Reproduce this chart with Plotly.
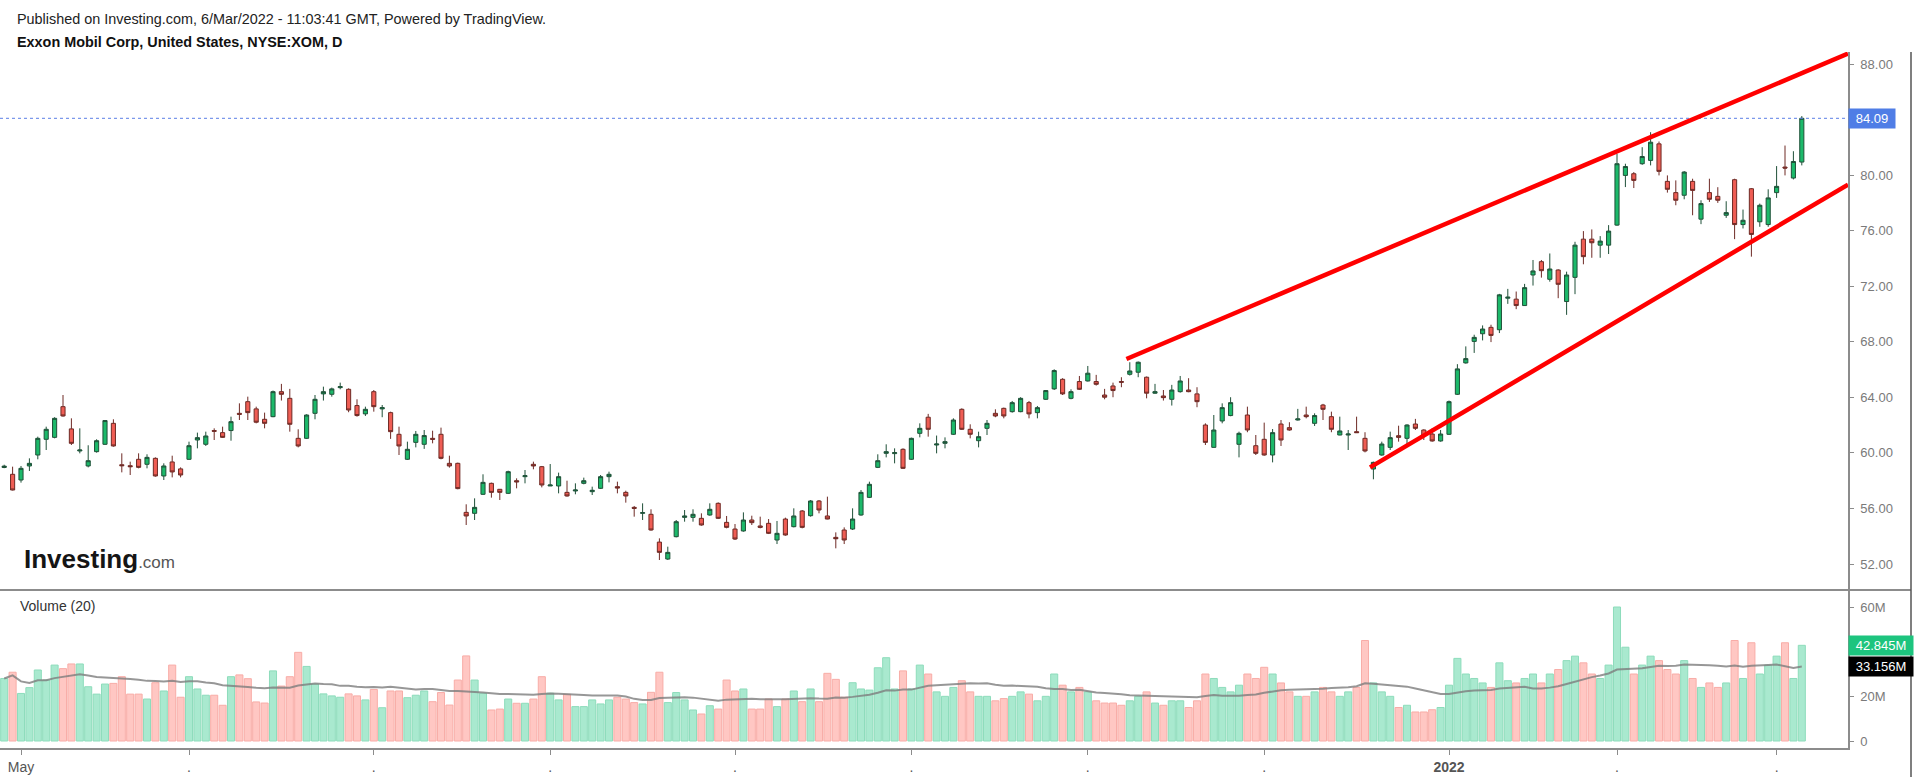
import plotly.graph_objects as go
import pandas as pd

# ---------------- data (daily candles, Apr 29 2021 .. Mar 4 2022) ----------------
opens = [
    58.95, 58.46, 58.05, 59.06, 59.85, 60.98, 61.12, 63.33, 61.73, 60.14,
    59.06, 60.09, 60.62, 62.13, 59.15, 59.08, 59.54, 59.18, 59.61, 58.34,
    59.35, 58.85, 59.54, 60.93, 60.62, 61.61, 61.46, 61.61, 62.85, 63.69,
    63.17, 62.42, 62.61, 64.41, 63.93, 61.05, 61.05, 62.85, 64.25, 64.22,
    64.70, 64.58, 63.41, 62.81, 64.41, 63.17, 62.90, 61.34, 59.54, 60.76,
    60.62, 61.05, 61.34, 59.25, 59.25, 55.72, 55.65, 57.02, 57.81, 57.38,
    57.09, 58.00, 58.29, 59.18, 59.01, 57.62, 57.62, 57.16, 57.26, 57.81,
    57.21, 57.45, 58.29, 57.57, 57.16, 56.08, 55.65, 55.58, 53.58, 52.36,
    53.97, 55.36, 55.36, 55.29, 55.53, 56.37, 55.00, 54.52, 54.38, 55.17,
    54.74, 54.93, 53.73, 55.24, 54.69, 55.82, 55.48, 56.54, 55.46, 53.92,
    54.45, 54.52, 55.53, 56.80, 58.96, 59.97, 59.95, 60.26, 59.54, 61.41,
    62.57, 60.57, 60.69, 61.34, 63.14, 61.70, 60.88, 61.77, 62.85, 63.21,
    62.97, 62.97, 63.62, 62.90, 63.86, 64.61, 65.30, 63.93, 65.14, 65.18,
    65.14, 64.17, 64.82, 65.14, 65.66, 65.81, 65.45, 64.30, 64.10, 63.86,
    64.41, 64.53, 64.25, 62.01, 60.40, 62.30, 62.69, 60.62, 62.73, 60.52,
    60.98, 59.85, 62.08, 61.82, 62.37, 62.73, 62.13, 63.45, 62.61, 61.29,
    61.29, 61.53, 61.05, 58.84, 59.85, 60.40, 61.24, 61.05, 62.08, 61.65,
    61.36, 60.86, 61.34, 64.22, 66.48, 68.03, 68.58, 69.04, 68.87, 71.14,
    71.07, 70.61, 72.81, 73.77, 72.50, 73.17, 70.90, 72.64, 75.39, 75.39,
    74.96, 74.96, 76.40, 79.98, 80.10, 80.82, 81.06, 82.25, 79.55, 78.74,
    78.55, 79.55, 76.83, 78.74, 78.47, 77.11, 79.67, 76.44, 79.02, 76.64,
    76.44, 78.74, 80.58, 79.79, 80.94,
]
highs = [
    59.15, 59.01, 59.06, 59.61, 61.17, 61.89, 62.57, 64.17, 62.49, 61.77,
    60.55, 60.98, 62.37, 62.42, 59.97, 59.37, 59.97, 59.90, 59.68, 59.25,
    59.80, 58.96, 60.81, 61.46, 61.53, 61.77, 61.89, 62.61, 63.57, 64.05,
    63.33, 62.90, 64.49, 64.97, 64.61, 61.70, 62.78, 64.17, 64.77, 64.70,
    65.06, 64.65, 63.86, 63.33, 64.53, 63.45, 62.97, 61.89, 60.81, 61.58,
    61.65, 61.60, 61.82, 59.80, 59.30, 56.30, 56.73, 58.46, 57.86, 57.40,
    58.72, 58.17, 58.77, 59.37, 59.06, 59.20, 58.58, 58.00, 57.81, 58.22,
    57.57, 58.41, 58.65, 57.93, 57.28, 56.18, 56.37, 55.94, 53.85, 53.25,
    55.17, 55.89, 55.94, 55.65, 56.37, 56.44, 55.46, 54.88, 55.72, 55.48,
    55.41, 55.24, 55.10, 55.34, 56.01, 55.89, 56.61, 56.61, 56.85, 54.28,
    54.64, 56.01, 57.33, 57.93, 59.90, 60.62, 60.33, 60.33, 61.10, 62.13,
    62.81, 61.25, 61.12, 62.49, 63.21, 62.06, 61.53, 62.37, 63.14, 63.26,
    63.74, 64.01, 63.74, 63.38, 64.53, 66.02, 65.38, 64.58, 65.54, 66.26,
    65.62, 64.61, 65.06, 65.45, 66.53, 66.58, 65.50, 64.97, 64.53, 64.90,
    65.54, 65.38, 64.73, 62.13, 62.73, 63.57, 64.01, 61.53, 63.33, 61.29,
    62.18, 61.72, 62.37, 62.21, 63.17, 63.33, 62.85, 63.53, 62.97, 62.61,
    61.65, 62.61, 61.49, 59.37, 60.81, 61.53, 61.96, 62.06, 62.45, 61.70,
    61.77, 61.65, 63.77, 66.39, 67.67, 68.51, 69.18, 69.23, 71.45, 71.81,
    71.62, 72.17, 73.89, 73.89, 74.36, 73.22, 73.05, 75.20, 75.97, 76.09,
    75.61, 76.40, 81.53, 80.82, 80.22, 82.01, 83.09, 82.42, 79.98, 79.62,
    80.29, 79.74, 78.19, 79.74, 79.13, 78.12, 79.74, 77.52, 79.07, 77.95,
    78.98, 80.65, 82.13, 81.72, 84.25,
]
lows = [
    58.90, 57.30, 57.86, 58.70, 59.54, 60.21, 61.05, 62.61, 60.57, 59.97,
    58.96, 60.02, 60.57, 60.45, 58.60, 58.41, 58.89, 58.89, 58.29, 58.05,
    58.24, 58.24, 59.49, 60.33, 60.50, 60.93, 61.08, 60.88, 62.37, 62.37,
    62.13, 61.77, 62.57, 63.77, 61.53, 60.40, 61.00, 62.42, 63.77, 64.05,
    64.58, 62.93, 62.61, 62.66, 62.97, 62.57, 61.01, 59.85, 59.49, 60.40,
    60.29, 60.69, 59.54, 58.94, 57.38, 54.81, 55.17, 56.97, 56.78, 56.61,
    57.04, 57.45, 57.81, 58.82, 57.52, 57.62, 57.09, 56.85, 57.02, 57.74,
    56.97, 57.40, 57.88, 57.09, 56.42, 55.41, 55.17, 54.40, 52.29, 52.29,
    53.92, 55.05, 55.05, 54.76, 55.48, 55.24, 54.57, 53.73, 54.33, 54.81,
    54.57, 54.16, 53.44, 54.04, 54.64, 54.57, 55.41, 55.65, 55.22, 53.13,
    53.44, 54.45, 55.48, 56.75, 58.91, 59.68, 59.25, 58.84, 59.49, 61.12,
    61.17, 59.97, 60.33, 61.29, 61.65, 61.05, 60.40, 61.29, 62.57, 62.49,
    62.90, 62.93, 62.49, 62.49, 63.81, 64.53, 64.17, 63.86, 64.53, 65.14,
    64.85, 63.86, 64.01, 64.73, 65.57, 65.45, 63.93, 64.25, 63.77, 63.41,
    64.34, 64.37, 63.29, 60.57, 60.38, 62.13, 62.64, 59.68, 61.49, 59.85,
    59.80, 59.32, 60.50, 61.60, 62.33, 62.49, 61.94, 62.37, 61.49, 61.27,
    60.21, 61.46, 60.04, 58.10, 59.80, 60.21, 60.81, 60.57, 61.65, 60.93,
    60.81, 60.81, 61.29, 64.17, 66.43, 67.20, 68.10, 67.98, 68.63, 70.73,
    70.35, 70.59, 72.05, 72.62, 72.33, 71.14, 69.94, 71.43, 73.58, 74.05,
    74.05, 74.32, 76.35, 79.14, 79.07, 80.74, 80.70, 79.98, 78.74, 77.83,
    78.26, 77.11, 76.47, 78.07, 78.00, 76.92, 75.39, 76.16, 74.13, 76.28,
    76.28, 78.36, 79.98, 79.69, 80.70,
]
closes = [
    59.05, 57.33, 58.89, 59.25, 61.05, 61.70, 62.49, 62.66, 60.69, 60.21,
    59.44, 60.88, 62.33, 60.50, 59.08, 59.01, 58.96, 59.68, 58.34, 59.06,
    58.63, 58.41, 60.52, 61.10, 61.22, 61.56, 61.12, 62.25, 62.78, 62.90,
    62.21, 62.13, 64.41, 64.22, 62.06, 60.50, 62.73, 63.86, 64.41, 64.61,
    64.77, 63.09, 62.69, 63.14, 63.33, 63.26, 61.53, 60.50, 60.26, 61.34,
    61.25, 60.98, 59.61, 59.06, 57.43, 55.46, 56.08, 57.88, 57.16, 57.16,
    58.65, 57.91, 58.36, 59.06, 57.69, 57.69, 58.29, 56.90, 57.33, 58.00,
    57.31, 58.29, 58.46, 57.47, 56.90, 56.01, 55.70, 54.45, 52.84, 52.84,
    55.05, 55.46, 55.58, 54.81, 55.94, 55.29, 54.64, 53.80, 55.17, 54.98,
    54.64, 54.21, 54.21, 54.09, 55.46, 54.64, 56.54, 55.89, 55.24, 53.82,
    53.73, 55.24, 57.16, 57.74, 59.44, 60.09, 60.02, 58.89, 61.05, 61.77,
    61.70, 60.64, 60.81, 62.37, 61.70, 61.34, 61.17, 62.13, 62.66, 62.66,
    63.62, 63.93, 62.81, 63.26, 64.49, 65.93, 64.25, 64.41, 64.58, 65.74,
    64.94, 64.01, 64.49, 65.09, 65.90, 66.53, 64.30, 64.41, 63.98, 64.53,
    65.18, 64.41, 63.69, 60.76, 61.65, 63.26, 63.62, 61.41, 61.65, 59.97,
    59.85, 61.46, 60.93, 61.65, 62.45, 62.61, 62.69, 63.14, 61.70, 61.58,
    61.36, 61.46, 60.14, 59.32, 60.64, 61.10, 61.12, 62.01, 61.77, 61.24,
    60.86, 61.36, 63.69, 66.05, 66.79, 68.32, 68.92, 68.46, 71.38, 71.21,
    70.61, 71.90, 73.10, 73.12, 73.24, 72.14, 72.81, 74.96, 74.13, 75.13,
    75.25, 75.97, 80.82, 80.62, 79.62, 81.34, 82.37, 80.27, 78.98, 78.19,
    80.22, 78.90, 77.95, 78.26, 78.19, 77.30, 76.44, 76.75, 75.73, 77.83,
    78.36, 79.19, 80.51, 80.98, 84.09,
]
volumes_m = [
    28.0, 30.8, 21.3, 23.9, 31.8, 27.3, 34.0, 32.4, 34.5, 34.5,
    24.3, 21.0, 25.5, 25.8, 28.8, 21.0, 21.0, 18.8, 26.1, 22.4,
    34.0, 19.6, 28.8, 23.3, 20.5, 20.5, 16.0, 28.8, 29.6, 27.9,
    17.5, 17.0, 31.4, 24.6, 28.8, 39.7, 33.4, 25.5, 21.1, 20.2,
    19.6, 21.1, 20.2, 18.4, 23.1, 14.9, 22.4, 22.4, 19.4, 20.5,
    22.4, 17.6, 21.7, 16.1, 27.3, 38.1, 27.3, 21.4, 13.9, 14.3,
    18.8, 16.9, 16.9, 18.8, 28.8, 21.4, 18.4, 20.9, 15.4, 15.4,
    18.4, 16.6, 18.4, 19.6, 18.8, 17.2, 16.6, 21.8, 30.8, 17.2,
    21.7, 18.4, 13.9, 12.1, 15.8, 14.3, 27.3, 22.4, 23.3, 14.3,
    14.3, 18.8, 15.4, 18.8, 22.4, 17.6, 23.3, 17.6, 30.3, 27.6,
    19.6, 26.1, 23.3, 22.8, 32.8, 37.3, 23.3, 31.4, 23.3, 34.0,
    30.0, 22.0, 20.0, 24.0, 27.0, 22.0, 20.0, 20.0, 18.0, 19.0,
    20.0, 22.0, 21.0, 18.0, 20.0, 30.0, 25.0, 22.0, 24.0, 22.0,
    18.0, 17.0, 17.0, 16.0, 18.0, 20.0, 22.0, 17.0, 16.0, 18.0,
    18.0, 15.0, 18.0, 30.0, 28.0, 24.0, 22.0, 25.0, 30.0, 28.0,
    33.0, 30.0, 26.0, 22.0, 20.0, 20.0, 22.0, 24.0, 22.0, 20.0,
    22.0, 24.0, 45.0, 26.0, 22.0, 20.0, 15.0, 16.0, 13.0, 13.0,
    14.0, 15.0, 25.0, 37.0, 30.0, 28.0, 26.0, 24.0, 35.0, 27.0,
    26.0, 28.0, 30.0, 26.0, 30.0, 32.0, 36.0, 38.0, 35.0, 30.0,
    28.0, 34.0, 60.0, 42.0, 30.0, 34.0, 38.0, 36.0, 32.0, 30.0,
    36.0, 28.0, 24.0, 26.0, 24.0, 26.0, 45.0, 28.0, 44.0, 30.0,
    34.0, 38.0, 44.0, 28.0, 42.845,
]
month_tick_idx = [2, 22, 44, 65, 87, 108, 129, 150, 172, 192, 211]
month_tick_text = ["May", ".", ".", ".", ".", ".", ".", ".", "<b>2022</b>", ".", "."]
# 84.00 and 40M sit under the last-value badges in the reference, so they are not drawn
price_ticks = [52, 56, 60, 64, 68, 72, 76, 80, 88]
volume_ticks = [0, 20, 60]
volume_tick_text = ["0", "20M", "60M"]
last_price = 84.09
last_volume_label = "42.845M"
volume_ma_label_value = 33.156
ma_period = 20

# trendline drawings (day index, price)
upper_line_x = [133.6, 219.5]
upper_line_y = [66.76, 88.75]
lower_line_x = [162.6, 219.5]
lower_line_y = [58.96, 79.32]

title_1 = "Published on Investing.com, 6/Mar/2022 - 11:03:41 GMT, Powered by TradingView."
title_2 = "Exxon Mobil Corp, United States, NYSE:XOM, D"

# ---------------- figure ----------------
W, H = 1917, 777
PL, PR, PT, PB = 0, 1848, 52, 748  # plot area in pixels
PW, PH = PR - PL, PB - PT


def px(x):
    return (x - PL) / PW


def py(y):
    return (PB - y) / PH


x_idx = list(range(len(opens)))
up = [c >= o for o, c in zip(opens, closes)]
vol_colors = ["#a9e9cf" if u else "#ffc7c3" for u in up]
vol_lines = ["#8ddcbb" if u else "#f8aca7" for u in up]
vol_ma = pd.Series(volumes_m).rolling(ma_period, min_periods=1).mean().tolist()

FONT = "Liberation Sans, Arial, sans-serif"

fig = go.Figure()
fig.add_trace(go.Candlestick(
    x=x_idx, open=opens, high=highs, low=lows, close=closes,
    xaxis="x", yaxis="y",
    increasing=dict(fillcolor="#1cb96a", line=dict(color="#1f5038", width=1)),
    decreasing=dict(fillcolor="#ef5d54", line=dict(color="#6e2a25", width=1)),
    whiskerwidth=0, hoverinfo="skip",
))
fig.add_trace(go.Bar(
    x=x_idx, y=volumes_m, xaxis="x", yaxis="y2",
    marker=dict(color=vol_colors, line=dict(color=vol_lines, width=1)),
    hoverinfo="skip",
))
fig.add_trace(go.Scatter(
    x=x_idx, y=vol_ma, xaxis="x", yaxis="y2", mode="lines",
    line=dict(color="rgba(125,125,125,0.8)", width=2), hoverinfo="skip",
))

price_dom_lo = py(589)
vol_dom_hi = py(591)

fig.update_layout(
    width=W, height=H,
    margin=dict(l=PL, r=W - PR, t=PT, b=H - PB, pad=0),
    paper_bgcolor="white", plot_bgcolor="white",
    showlegend=False, bargap=0.16, boxgap=0.3,
    font=dict(family=FONT, size=13, color="#555"),
    xaxis=dict(
        anchor="y2", range=[-0.5, 219.5], showgrid=False, zeroline=False,
        tickmode="array", tickvals=month_tick_idx, ticktext=month_tick_text,
        ticks="outside", ticklen=5, tickcolor="#8c8c8c", tickwidth=1,
        showline=True, linecolor="#8c8c8c", linewidth=2,
        tickfont=dict(family=FONT, size=14, color="#555"),
        rangeslider=dict(visible=False), fixedrange=True,
    ),
    yaxis=dict(
        domain=[price_dom_lo, 1], range=[50.203, 88.864], side="right",
        anchor="x", showgrid=False, zeroline=False,
        tickmode="array", tickvals=price_ticks,
        ticktext=[f"{v:.2f}" for v in price_ticks],
        ticks="outside", ticklen=4, tickcolor="#8c8c8c", ticklabelstandoff=4,
        showline=True, linecolor="#8c8c8c", linewidth=1.5,
        tickfont=dict(family=FONT, size=13, color="#7a7a7a"),
        fixedrange=True,
    ),
    yaxis2=dict(
        domain=[0, vol_dom_hi], range=[-3.13, 67.17], side="right",
        anchor="x", showgrid=False, zeroline=False,
        tickmode="array", tickvals=volume_ticks, ticktext=volume_tick_text,
        ticks="outside", ticklen=4, tickcolor="#8c8c8c", ticklabelstandoff=4,
        showline=True, linecolor="#8c8c8c", linewidth=1.5,
        tickfont=dict(family=FONT, size=13, color="#7a7a7a"),
        fixedrange=True,
    ),
)

shapes = [
    dict(type="line", xref="paper", yref="y", x0=0, x1=1, y0=last_price, y1=last_price,
         line=dict(color="#5b7fe6", width=1, dash="dot")),
    dict(type="line", xref="x", yref="y", x0=upper_line_x[0], x1=upper_line_x[1],
         y0=upper_line_y[0], y1=upper_line_y[1], line=dict(color="#ff0000", width=4.5)),
    dict(type="line", xref="x", yref="y", x0=lower_line_x[0], x1=lower_line_x[1],
         y0=lower_line_y[0], y1=lower_line_y[1], line=dict(color="#ff0000", width=4.5)),
    dict(type="line", xref="paper", yref="paper", x0=0, x1=px(1911), y0=py(590), y1=py(590),
         line=dict(color="#8c8c8c", width=2)),
    dict(type="line", xref="paper", yref="paper", x0=px(1911), x1=px(1911), y0=py(52), y1=py(777),
         line=dict(color="#555555", width=1.5)),
]
fig.update_layout(shapes=shapes)

annotations = [
    dict(xref="paper", yref="paper", x=px(15), y=py(19), xanchor="left", yanchor="middle",
         text=title_1, showarrow=False, font=dict(family=FONT, size=14.4, color="#222")),
    dict(xref="paper", yref="paper", x=px(15), y=py(42), xanchor="left", yanchor="middle",
         text="<b>" + title_2 + "</b>", showarrow=False, font=dict(family=FONT, size=14.4, color="#111")),
    dict(xref="paper", yref="paper", x=px(18), y=py(606), xanchor="left", yanchor="middle",
         text="Volume (20)", showarrow=False, font=dict(family=FONT, size=14, color="#333")),
    dict(xref="paper", yref="paper", x=px(22), y=py(559), xanchor="left", yanchor="middle",
         text="<b>Investing</b><span style='font-size:17px;color:#555'>.com</span>",
         showarrow=False, font=dict(family=FONT, size=26, color="#151515")),
    dict(xref="paper", yref="y", x=1, y=last_price, xanchor="left", yanchor="middle",
         text=f"{last_price:.2f}", showarrow=False, bgcolor="#4f7de6", borderpad=2,
         width=42, align="center", font=dict(family=FONT, size=13, color="white")),
    dict(xref="paper", yref="y2", x=1, y=volumes_m[-1], xanchor="left", yanchor="middle",
         text=last_volume_label, showarrow=False, bgcolor="#1dc47e", borderpad=2,
         width=60, align="center", font=dict(family=FONT, size=13, color="white")),
    dict(xref="paper", yref="y2", x=1, y=volume_ma_label_value, xanchor="left", yanchor="middle",
         text=f"{volume_ma_label_value:.3f}M", showarrow=False, bgcolor="#000000", borderpad=2,
         width=60, align="center", font=dict(family=FONT, size=13, color="white")),
]
fig.update_layout(annotations=annotations)

fig.write_html("out.html", config={"displayModeBar": False},
               post_script="document.body.style.margin='0';document.body.style.overflow='hidden';")
